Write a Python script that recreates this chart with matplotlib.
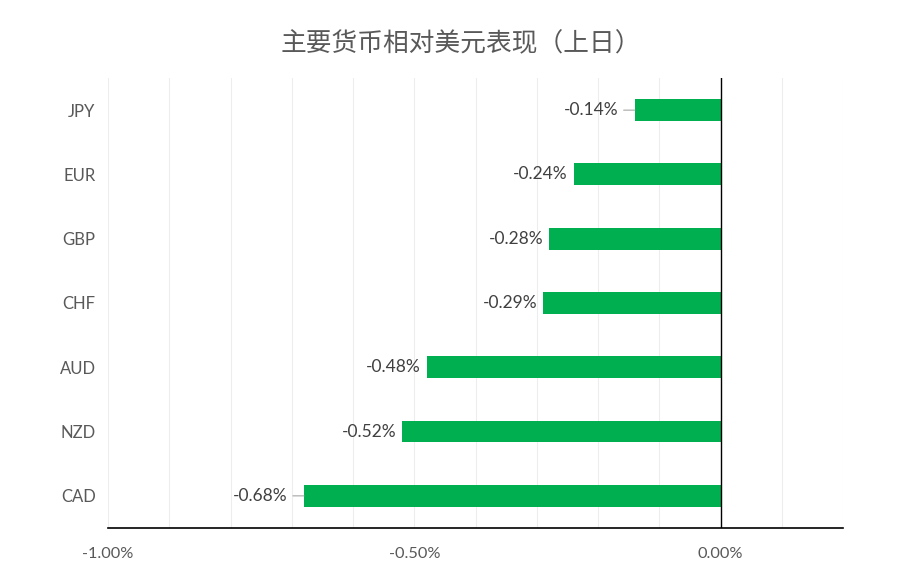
import matplotlib
matplotlib.use("Agg")
import matplotlib.pyplot as plt
from matplotlib.ticker import MultipleLocator, FixedLocator

plt.rcParams['font.family'] = ['Lato', 'Noto Sans CJK SC', 'DejaVu Sans']

currencies = ["JPY", "EUR", "GBP", "CHF", "AUD", "NZD", "CAD"]
values = [-0.14, -0.24, -0.28, -0.29, -0.48, -0.52, -0.68]
title = "主要货币相对美元表现（上日）"
xticks = [-1.0, -0.5, 0.0]
xtick_labels = ["-1.00%", "-0.50%", "0.00%"]
leader = ["JPY", "CAD"]

fig = plt.figure(figsize=(9.02, 5.84), dpi=100)
ax = fig.add_axes([108/902, 1-528/584, (843-108)/902, (528-78)/584])

y = list(range(len(currencies)))
ax.barh(y, values, height=0.34, color="#00B050", zorder=3)
ax.set_ylim(len(currencies)-0.5, -0.5)
ax.set_xlim(-1.0, 0.2)

ax.xaxis.set_major_locator(FixedLocator(xticks))
ax.set_xticklabels(xtick_labels)
ax.xaxis.set_minor_locator(MultipleLocator(0.1))
ax.grid(True, axis='x', which='both', color="#EDEDED", linewidth=0.8, zorder=0)
ax.tick_params(axis='x', which='both', length=0, pad=14, labelsize=11.8, labelcolor="#595959")
ax.set_yticks(y)
ax.set_yticklabels(currencies)
ax.tick_params(axis='y', length=0, pad=9, labelsize=12, labelcolor="#595959")

for s in ["top", "right", "left"]:
    ax.spines[s].set_visible(False)
ax.spines["bottom"].set_color("black")
ax.spines["bottom"].set_linewidth(1.2)
ax.axvline(0, color="black", linewidth=1.0, zorder=4)

for yi, (c, v) in enumerate(zip(currencies, values)):
    if c in leader:
        ax.annotate(f"{v:.2f}%", xy=(v, yi), xytext=(-12, 0), textcoords="offset points",
                    ha="right", va="center", fontsize=12.5, color="#404040",
                    arrowprops=dict(arrowstyle="-", color="#A6A6A6", lw=0.8,
                                    shrinkA=2, shrinkB=0))
    else:
        ax.annotate(f"{v:.2f}%", xy=(v, yi), xytext=(-4, 0), textcoords="offset points",
                    ha="right", va="center", fontsize=12.5, color="#404040")

fig.text(461/902, 1-44/584, title, ha="center", va="center", fontsize=18.5,
         color="#595959", family=['Noto Sans CJK SC', 'DejaVu Sans'])

fig.savefig("out.png", dpi=100)
